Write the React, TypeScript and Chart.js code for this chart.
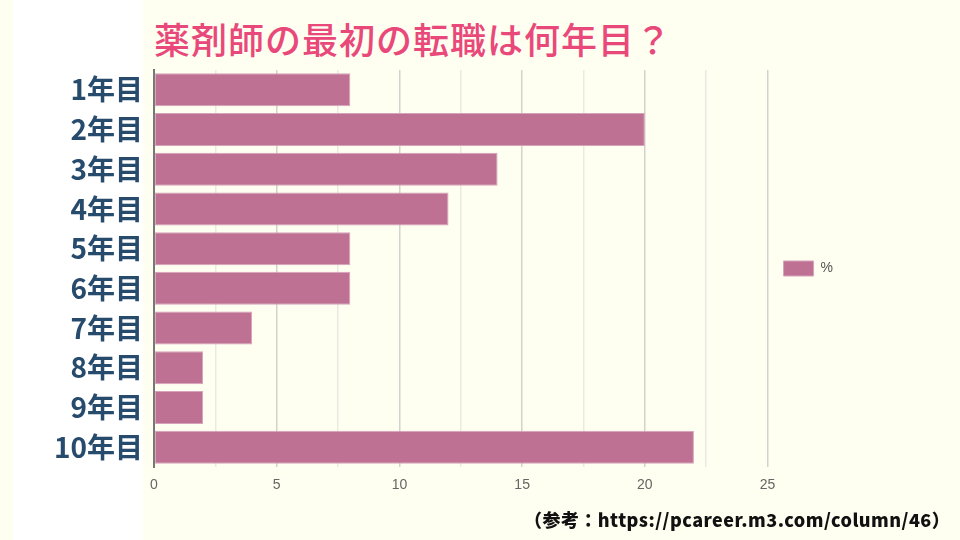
import React, { useEffect, useRef } from "react";
import { Chart, registerables } from "chart.js";

Chart.register(...registerables);

const categories = ["1年目", "2年目", "3年目", "4年目", "5年目", "6年目", "7年目", "8年目", "9年目", "10年目"];
const seriesLabel = "%";
const values = [8, 20, 14, 12, 8, 8, 4, 2, 2, 22];
const xMax = 25;
const xStep = 2.5;
const titleText = "薬剤師の最初の転職は何年目？";
const sourceText = "（参考：https://pcareer.m3.com/column/46）";

const CREAM = "#FEFEF1";

export default function App() {
  const canvasRef = useRef<HTMLCanvasElement | null>(null);

  useEffect(() => {
    if (!canvasRef.current) return;
    const chart = new Chart(canvasRef.current, {
      type: "bar",
      data: {
        labels: categories,
        datasets: [
          {
            label: seriesLabel,
            data: values,
            backgroundColor: "#BE7193",
            borderColor: "#D6A3BA",
            borderWidth: 1,
            borderSkipped: false,
            categoryPercentage: 0.83,
            barPercentage: 1,
          },
        ],
      },
      options: {
        indexAxis: "y",
        responsive: false,
        animation: false,
        devicePixelRatio: 1,
        layout: { padding: { top: 70, bottom: 0, left: 0, right: 117 } },
        plugins: {
          title: { display: false },
          tooltip: { enabled: false },
          legend: {
            display: true,
            position: "right",
            align: "start",
            title: {
              display: true,
              text: "",
              font: { size: 10, lineHeight: 1 },
              padding: { top: 165, bottom: 0 },
            },
            labels: {
              boxWidth: 30,
              boxHeight: 15,
              padding: 16,
              color: "#555555",
              font: { family: "'Liberation Sans', Arial, sans-serif", size: 14 },
            },
          },
        },
        scales: {
          x: {
            min: 0,
            max: xMax,
            afterFit: (scale: any) => {
              scale.height = 73;
            },
            ticks: {
              stepSize: xStep,
              padding: 10,
              color: "#666666",
              font: { family: "'Liberation Sans', Arial, sans-serif", size: 14 },
              callback: (v: any) => (Number(v) % 5 === 0 ? String(v) : ""),
              maxRotation: 0,
              autoSkip: false,
            },
            grid: {
              drawTicks: false,
              color: (ctx: any) => {
                const v = ctx.tick ? ctx.tick.value : 0;
                return v % 5 === 0 ? "#D2D2CE" : "#EAEAE2";
              },
              lineWidth: 1.5,
            },
            border: { display: false },
          },
          y: {
            afterFit: (scale: any) => {
              scale.width = 154;
            },
            ticks: {
              padding: 11,
              color: "#274B6D",
              font: { family: "'Noto Sans CJK JP', 'Noto Sans', sans-serif", size: 28, weight: "bold" },
            },
            grid: { display: false, drawTicks: false },
            border: { display: true, color: "#777777", width: 2 },
          },
        },
      },
    });
    return () => chart.destroy();
  }, []);

  return (
    <div
      style={{
        position: "fixed",
        left: 0,
        top: 0,
        width: 960,
        height: 540,
        background: CREAM,
        overflow: "hidden",
      }}
    >
      <div style={{ position: "absolute", left: 13, top: 0, width: 130, height: 540, background: "#FFFFFF" }} />
      <div
        style={{
          position: "absolute",
          left: 154,
          top: 14,
          fontFamily: "'Noto Sans CJK JP', sans-serif",
          fontWeight: 500,
          fontSize: 36,
          lineHeight: "48px",
          color: "#E9497A",
          whiteSpace: "nowrap",
          letterSpacing: 1,
        }}
      >
        {titleText}
      </div>
      <canvas
        ref={canvasRef}
        width={960}
        height={540}
        style={{ position: "absolute", left: 0, top: 0, width: 960, height: 540 }}
      />
      <div
        style={{
          position: "absolute",
          left: 524,
          top: 506,
          fontFamily: "'Noto Sans CJK JP', sans-serif",
          fontWeight: 800,
          fontSize: 18,
          lineHeight: "26px",
          color: "#111111",
          whiteSpace: "nowrap",
          letterSpacing: 0.45,
        }}
      >
        {sourceText}
      </div>
    </div>
  );
}
